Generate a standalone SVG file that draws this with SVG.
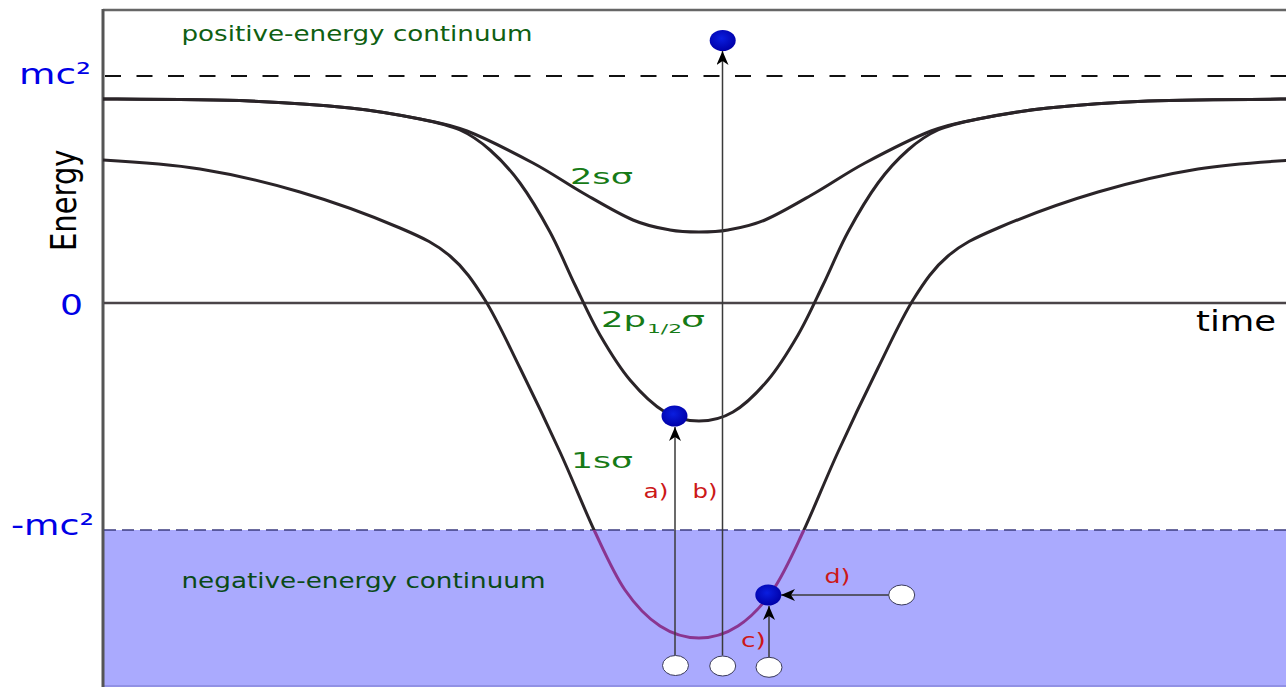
<svg xmlns="http://www.w3.org/2000/svg" width="1286" height="687" viewBox="0 0 1286 687">
<style>
.curve{fill:none;stroke:#2a2428;stroke-width:3}
.lbl{font-family:"DejaVu Sans",Verdana,sans-serif}
.blue{fill:#0000e6;font-size:29px}
.green{fill:#167a16;font-size:21px}
.red{fill:#cc1818;font-size:20px}
.elec{fill:url(#eg)}
.hole{fill:#fff;stroke:#3a3a5a;stroke-width:1}
.arr{stroke:#3a3a3a;stroke-width:1.5;fill:none;marker-end:url(#ah)}
</style>
<defs>
<radialGradient id="eg" cx="0.45" cy="0.4" r="0.6"><stop offset="0" stop-color="#0a1ee0"/><stop offset="1" stop-color="#0000a8"/></radialGradient>
<marker id="ah" markerUnits="userSpaceOnUse" markerWidth="14" markerHeight="12" viewBox="0 0 14 12" refX="14" refY="6" orient="auto"><path d="M0,0 L14,6 L0,12 L4,6 Z" fill="#000"/></marker>
<clipPath id="above"><rect x="0" y="0" width="1286" height="530"/></clipPath>
<clipPath id="below"><rect x="0" y="530" width="1286" height="157"/></clipPath>
<path id="p1s" d="M103,160 C135.3,161.8 167.2,163.7 200,169 C232.8,174.3 266.7,182.2 300,192 C333.3,201.8 375,217.3 400,228 C425,238.7 435.8,244 450,256 C464.2,268 473.3,281.3 485,300 C496.7,318.7 507.5,342.7 520,368 C532.5,393.3 547.5,424.7 560,452 C572.5,479.3 584.2,509 595,532 C605.8,555 614.2,574.3 625,590 C635.8,605.7 647.7,618 660,626 C672.3,634 686,638 699,638 C712,638 725.7,634 738,626 C750.3,618 762.2,605.7 773,590 C783.8,574.3 792.2,555 803,532 C813.8,509 825.5,479.3 838,452 C850.5,424.7 865.5,393.3 878,368 C890.5,342.7 901.3,318.7 913,300 C924.7,281.3 933.8,268 948,256 C962.2,244 973,238.7 998,228 C1023,217.3 1064.7,201.8 1098,192 C1131.3,182.2 1165.2,174.3 1198,169 C1230.8,163.7 1262.7,161.8 1295,160"/>
</defs>
<rect x="0" y="0" width="1286" height="687" fill="#fff"/>
<g id="negative-continuum">
<rect x="104" y="530" width="1182" height="157" fill="#aaaafe"/>
<line x1="104" y1="686" x2="1286" y2="686" stroke="#8888dd" stroke-width="1.5"/>
</g>
<g id="axes">
<line x1="103" y1="10" x2="1286" y2="10" stroke="#666" stroke-width="2.5"/>
<line x1="103" y1="9" x2="103" y2="687" stroke="#555" stroke-width="3"/>
<line x1="105" y1="76" x2="1286" y2="76" stroke="#111" stroke-width="2" stroke-dasharray="16 15.5"/>
<line x1="104" y1="303" x2="1286" y2="303" stroke="#4a4448" stroke-width="2.5"/>
<line x1="104" y1="530" x2="1286" y2="530" stroke="#3c3c80" stroke-width="1.6" stroke-dasharray="12 6"/>
</g>
<g id="curves">
<path id="c2s" class="curve" d="M103,99 C152,99.3 208.8,99.5 250,101 C291.2,102.5 321.7,105 350,108 C378.3,111 400.5,115.2 420,119 C439.5,122.8 448.2,123.7 467,131 C485.8,138.3 513.7,152.7 533,163 C552.3,173.3 566.3,183.5 583,193 C599.7,202.5 618.5,213.8 633,220 C647.5,226.2 659,228 670,230 C681,232 689.3,232 699,232 C708.7,232 717,232 728,230 C739,228 750.5,226.2 765,220 C779.5,213.8 798.3,202.5 815,193 C831.7,183.5 845.7,173.3 865,163 C884.3,152.7 912.2,138.3 931,131 C949.8,123.7 958.5,122.8 978,119 C997.5,115.2 1019.7,111 1048,108 C1076.3,105 1106.8,102.5 1148,101 C1189.2,99.5 1246,99.3 1295,99"/>
<path id="c2p" class="curve" d="M103,99 C152,99.3 208.8,99.5 250,101 C291.2,102.5 321.7,105 350,108 C378.3,111 401.7,115.3 420,119 C438.3,122.7 448.3,124.8 460,130 C471.7,135.2 480,141.2 490,150 C500,158.8 510,169.3 520,183 C530,196.7 540.8,215 550,232 C559.2,249 566.7,267.8 575,285 C583.3,302.2 590.8,319.2 600,335 C609.2,350.8 619.2,367.2 630,380 C640.8,392.8 653.5,405.2 665,412 C676.5,418.8 687.7,421 699,421 C710.3,421 721.5,418.8 733,412 C744.5,405.2 757.2,392.8 768,380 C778.8,367.2 788.8,350.8 798,335 C807.2,319.2 814.7,302.2 823,285 C831.3,267.8 838.8,249 848,232 C857.2,215 868,196.7 878,183 C888,169.3 898,158.8 908,150 C918,141.2 926.3,135.2 938,130 C949.7,124.8 959.7,122.7 978,119 C996.3,115.3 1019.7,111 1048,108 C1076.3,105 1106.8,102.5 1148,101 C1189.2,99.5 1246,99.3 1295,99"/>
<g id="c1s">
<use href="#p1s" class="curve" clip-path="url(#above)"/>
<use href="#p1s" class="curve" clip-path="url(#below)" style="stroke:#8a3590"/>
</g>
</g>
<g id="connectors">
<path id="arrow-a" class="arr" d="M675,655 L675,427"/>
<path id="arrow-b" class="arr" d="M722.5,655.5 L722.5,51"/>
<path id="arrow-c" class="arr" d="M769,657 L769,606"/>
<path id="arrow-d" class="arr" d="M889,595 L781,595"/>
</g>
<g id="electron-top"><ellipse class="elec" cx="722.7" cy="40.5" rx="13" ry="10.5"/></g>
<g id="electron-2p"><ellipse class="elec" cx="674.5" cy="416" rx="13" ry="10.5"/></g>
<g id="electron-1s"><ellipse class="elec" cx="768.3" cy="595" rx="13" ry="10.5"/></g>
<g id="hole-a"><ellipse class="hole" cx="675.5" cy="665.5" rx="13" ry="10"/></g>
<g id="hole-b"><ellipse class="hole" cx="722.7" cy="666" rx="13" ry="10"/></g>
<g id="hole-c"><ellipse class="hole" cx="769" cy="667.3" rx="13" ry="10"/></g>
<g id="hole-d"><ellipse class="hole" cx="901.7" cy="595" rx="13" ry="10"/></g>
<g id="labels" class="lbl">
<text x="181.5" y="41" style="fill:#0f5f12;font-size:21px" textLength="351" lengthAdjust="spacingAndGlyphs">positive-energy continuum</text>
<text x="181.5" y="588" style="fill:#0b4a18;font-size:21px" textLength="364" lengthAdjust="spacingAndGlyphs">negative-energy continuum</text>
<text class="blue" x="19" y="84" textLength="72" lengthAdjust="spacingAndGlyphs">mc²</text>
<text class="blue" x="60" y="315" textLength="23" lengthAdjust="spacingAndGlyphs">0</text>
<text class="blue" x="11" y="535" textLength="83" lengthAdjust="spacingAndGlyphs">-mc²</text>
<text x="1196" y="331" style="fill:#000;font-size:28px" textLength="80" lengthAdjust="spacingAndGlyphs">time</text>
<text transform="translate(76,251) scale(1.24,1) rotate(-90)" x="0" y="0" style="fill:#000;font-size:29px">Energy</text>
<text class="green" x="570" y="184" textLength="63" lengthAdjust="spacingAndGlyphs">2sσ</text>
<text class="green"><tspan x="601" y="327" textLength="45" lengthAdjust="spacingAndGlyphs">2p</tspan><tspan x="647" y="333" style="font-size:13px" textLength="35" lengthAdjust="spacingAndGlyphs">1/2</tspan><tspan x="681" y="327" textLength="24" lengthAdjust="spacingAndGlyphs">σ</tspan></text>
<text class="green" x="571" y="468" textLength="62" lengthAdjust="spacingAndGlyphs">1sσ</text>
<text class="red" x="643.5" y="498" textLength="25" lengthAdjust="spacingAndGlyphs">a)</text>
<text class="red" x="692.5" y="498" textLength="25" lengthAdjust="spacingAndGlyphs">b)</text>
<text class="red" x="741" y="647" textLength="25" lengthAdjust="spacingAndGlyphs">c)</text>
<text class="red" x="824.5" y="583" textLength="26" lengthAdjust="spacingAndGlyphs">d)</text>
</g>
</svg>
